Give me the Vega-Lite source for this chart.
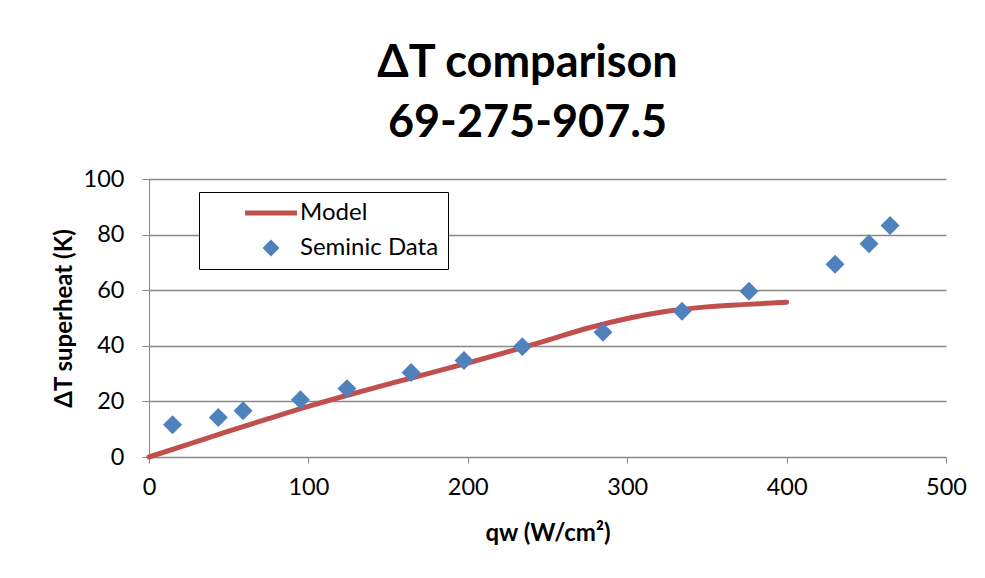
{
  "$schema": "https://vega.github.io/schema/vega-lite/v6.json",
  "autosize": "none",
  "width": 797,
  "height": 278,
  "padding": {"left": 149, "top": 179, "right": 39, "bottom": 121},
  "background": "white",
  "title": {
    "text": ["ΔT comparison", "69-275-907.5"],
    "font": "Lato",
    "fontSize": 45,
    "fontWeight": "bold",
    "color": "black",
    "lineHeight": 60,
    "anchor": "middle",
    "frame": "group",
    "dx": -20,
    "offset": 21
  },
  "datasets": {
    "model": [
      {"q": 0, "dT": 0, "series": "Model"},
      {"q": 25, "dT": 4.6, "series": "Model"},
      {"q": 50, "dT": 9.3, "series": "Model"},
      {"q": 75, "dT": 13.8, "series": "Model"},
      {"q": 100, "dT": 18.2, "series": "Model"},
      {"q": 125, "dT": 22.3, "series": "Model"},
      {"q": 150, "dT": 26.2, "series": "Model"},
      {"q": 175, "dT": 30.0, "series": "Model"},
      {"q": 200, "dT": 33.8, "series": "Model"},
      {"q": 225, "dT": 37.8, "series": "Model"},
      {"q": 250, "dT": 42.0, "series": "Model"},
      {"q": 275, "dT": 46.3, "series": "Model"},
      {"q": 300, "dT": 49.8, "series": "Model"},
      {"q": 325, "dT": 52.4, "series": "Model"},
      {"q": 350, "dT": 54.0, "series": "Model"},
      {"q": 375, "dT": 54.9, "series": "Model"},
      {"q": 400, "dT": 55.7, "series": "Model"}
    ],
    "seminic": [
      {"q": 14.8, "dT": 11.6, "series": "Seminic Data"},
      {"q": 43.5, "dT": 14.2, "series": "Seminic Data"},
      {"q": 59, "dT": 16.6, "series": "Seminic Data"},
      {"q": 95, "dT": 20.6, "series": "Seminic Data"},
      {"q": 124.2, "dT": 24.6, "series": "Seminic Data"},
      {"q": 164.4, "dT": 30.4, "series": "Seminic Data"},
      {"q": 197.6, "dT": 34.7, "series": "Seminic Data"},
      {"q": 234.2, "dT": 39.7, "series": "Seminic Data"},
      {"q": 284.8, "dT": 44.9, "series": "Seminic Data"},
      {"q": 334.4, "dT": 52.4, "series": "Seminic Data"},
      {"q": 376.4, "dT": 59.6, "series": "Seminic Data"},
      {"q": 430.4, "dT": 69.3, "series": "Seminic Data"},
      {"q": 451.7, "dT": 76.7, "series": "Seminic Data"},
      {"q": 464.9, "dT": 83.3, "series": "Seminic Data"}
    ]
  },
  "encoding": {
    "x": {
      "field": "q",
      "type": "quantitative",
      "scale": {"domain": [0, 500], "nice": false},
      "axis": {
        "title": "qw (W/cm²)",
        "values": [0, 100, 200, 300, 400, 500],
        "grid": false,
        "domainColor": "#888888",
        "tickColor": "#888888",
        "tickSize": 6,
        "labelFlush": false,
        "labelFont": "Lato",
        "labelFontSize": 23.5,
        "labelColor": "black",
        "labelPadding": 12,
        "titleFont": "Lato",
        "titleFontSize": 24,
        "titleFontWeight": "bold",
        "titleColor": "black",
        "titleY": 76,
        "titleBaseline": "middle"
      }
    },
    "y": {
      "field": "dT",
      "type": "quantitative",
      "scale": {"domain": [0, 100], "nice": false},
      "axis": {
        "title": "ΔT superheat (K)",
        "values": [0, 20, 40, 60, 80, 100],
        "grid": true,
        "gridColor": "#888888",
        "gridWidth": 1.5,
        "domainColor": "#888888",
        "tickColor": "#888888",
        "tickSize": 7,
        "labelFont": "Lato",
        "labelFontSize": 23.5,
        "labelColor": "black",
        "labelPadding": 18,
        "titleFont": "Lato",
        "titleFontSize": 24,
        "titleFontWeight": "bold",
        "titleColor": "black",
        "titleX": -85,
        "titleY": 139,
        "titleAngle": -90,
        "titleAlign": "center",
        "titleBaseline": "middle"
      }
    },
    "color": {
      "field": "series",
      "type": "nominal",
      "scale": {"domain": ["Model", "Seminic Data"], "range": ["#C0504D", "#4F81BD"]},
      "legend": {
        "orient": "none",
        "legendX": 50,
        "legendY": 13,
        "title": null,
        "strokeColor": "black",
        "fillColor": "white",
        "padding": 9,
        "labelFont": "Lato",
        "labelFontSize": 24,
        "labelColor": "black",
        "symbolOffset": 51,
        "labelOffset": 17,
        "rowPadding": 11,
        "encode": {
          "symbols": {
            "update": {
              "shape": {"signal": "datum.value === 'Model' ? 'stroke' : 'diamond'"},
              "size": {"signal": "datum.value === 'Model' ? 2700 : 290"},
              "stroke": {"signal": "datum.value === 'Model' ? '#C0504D' : '#4F81BD'"},
              "fill": {"signal": "datum.value === 'Model' ? 'transparent' : '#4F81BD'"},
              "strokeWidth": {"signal": "datum.value === 'Model' ? 5 : 0"},
              "opacity": {"value": 1}
            }
          }
        }
      }
    }
  },
  "layer": [
    {
      "data": {"name": "model"},
      "mark": {"type": "line", "strokeWidth": 5, "interpolate": "monotone", "strokeCap": "round"}
    },
    {
      "data": {"name": "seminic"},
      "mark": {"type": "point", "shape": "diamond", "filled": true, "size": 360, "opacity": 1}
    }
  ],
  "config": {
    "view": {"stroke": null}
  }
}
